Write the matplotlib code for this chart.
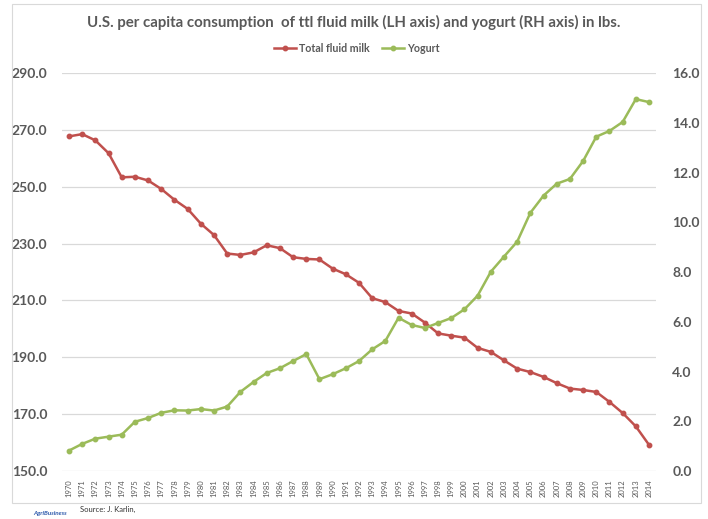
import matplotlib
matplotlib.use('Agg')
import matplotlib.pyplot as plt
import matplotlib.patches as patches
import numpy as np

years = list(range(1970, 2015))

# lbs per capita, left axis
milk = [267.7, 268.5, 266.3, 261.8, 253.3, 253.5, 252.2, 249.2, 245.4, 242.2,
        237.0, 233.0, 226.5, 226.0, 226.9, 229.4, 228.4, 225.2, 224.6, 224.4,
        221.2, 219.2, 216.2, 210.8, 209.4, 206.3, 205.4, 202.2, 198.4, 197.6,
        196.9, 193.3, 191.9, 188.9, 186.0, 184.8, 183.1, 180.9, 179.0, 178.5,
        177.8, 174.3, 170.4, 165.7, 159.2]

# lbs per capita, right axis
yogurt = [0.82, 1.09, 1.30, 1.38, 1.46, 1.98, 2.13, 2.34, 2.44, 2.43,
          2.49, 2.43, 2.59, 3.18, 3.58, 3.94, 4.13, 4.42, 4.70, 3.69,
          3.89, 4.13, 4.42, 4.89, 5.23, 6.16, 5.87, 5.75, 5.95, 6.15,
          6.50, 7.05, 8.01, 8.62, 9.22, 10.38, 11.07, 11.55, 11.74, 12.46,
          13.44, 13.67, 14.03, 14.95, 14.83]

left_ticks = np.arange(150, 291, 20)
right_ticks = np.arange(0, 16.1, 2)

plt.rcParams['font.family'] = ['Lato', 'DejaVu Sans']
gray = '#595959'
red = '#C0504D'
green = '#9BBB59'

W, H = 708, 519
fig = plt.figure(figsize=(W / 100, H / 100), dpi=100)

# chart frame
fig.patches.append(patches.Rectangle((12 / W, 1 - 503 / H), (701 - 12) / W, (503 - 4) / H,
                                     transform=fig.transFigure, fill=False,
                                     edgecolor='#D9D9D9', linewidth=0.8))

ax = fig.add_axes([62.4 / W, 1 - 471 / H, (655.6 - 62.4) / W, (471 - 73) / H])
ax2 = ax.twinx()

x = np.arange(len(years))
l1, = ax.plot(x, milk, color=red, lw=1.8, marker='o', ms=3.2, label='Total fluid milk', zorder=3)
l2, = ax2.plot(x, yogurt, color=green, lw=1.8, marker='o', ms=3.2, label='Yogurt', zorder=3)

ax.set_xlim(-0.5, len(years) - 0.5)
ax.set_ylim(150, 290)
ax2.set_ylim(0, 16)
ax.set_yticks(left_ticks)
ax.set_yticklabels(['%.1f' % v for v in left_ticks])
ax2.set_yticks(right_ticks)
ax2.set_yticklabels(['%.1f' % v for v in right_ticks])
ax.set_xticks(x)
ax.set_xticklabels([str(y) for y in years], rotation=90, fontsize=5.5, color=gray)

for a in (ax, ax2):
    for s in a.spines.values():
        s.set_visible(False)
    a.tick_params(length=0)
ax.tick_params(axis='y', labelsize=10, labelcolor=gray, pad=11)
ax2.tick_params(axis='y', labelsize=10, labelcolor=gray, pad=12)
ax.tick_params(axis='x', pad=6)
for t in ax.get_yticklabels() + ax2.get_yticklabels():
    t.set_fontweight('bold')

ax.grid(axis='y', color='#D9D9D9', lw=0.9)
ax.set_axisbelow(True)
ax2.set_zorder(ax.get_zorder() + 1)
ax2.patch.set_visible(False)

fig.text(354 / W, 1 - 22 / H,
         'U.S. per capita consumption  of ttl fluid milk (LH axis) and yogurt (RH axis) in lbs.',
         ha='center', va='center', fontsize=10.8, fontweight='bold', color=gray)

fig.legend(handles=[l1, l2], loc='center', bbox_to_anchor=(357 / W, 1 - 48 / H), ncol=2,
           frameon=False, handlelength=2.0, columnspacing=1.2,
           handletextpad=0.3, prop={'weight': 'bold', 'size': 7.7})
for t in fig.legends[0].get_texts():
    t.set_color(gray)

fig.text(80 / W, 1 - 509 / H, 'Source: J. Karlin,', fontsize=5.5, color='#333333',
         ha='left', va='center')
fig.text(33 / W, 1 - 513 / H, 'AgriBusiness', fontsize=4.5, color='#2E5AAC',
         ha='left', va='center', fontweight='bold', style='italic')

fig.savefig('out.png', dpi=100)
